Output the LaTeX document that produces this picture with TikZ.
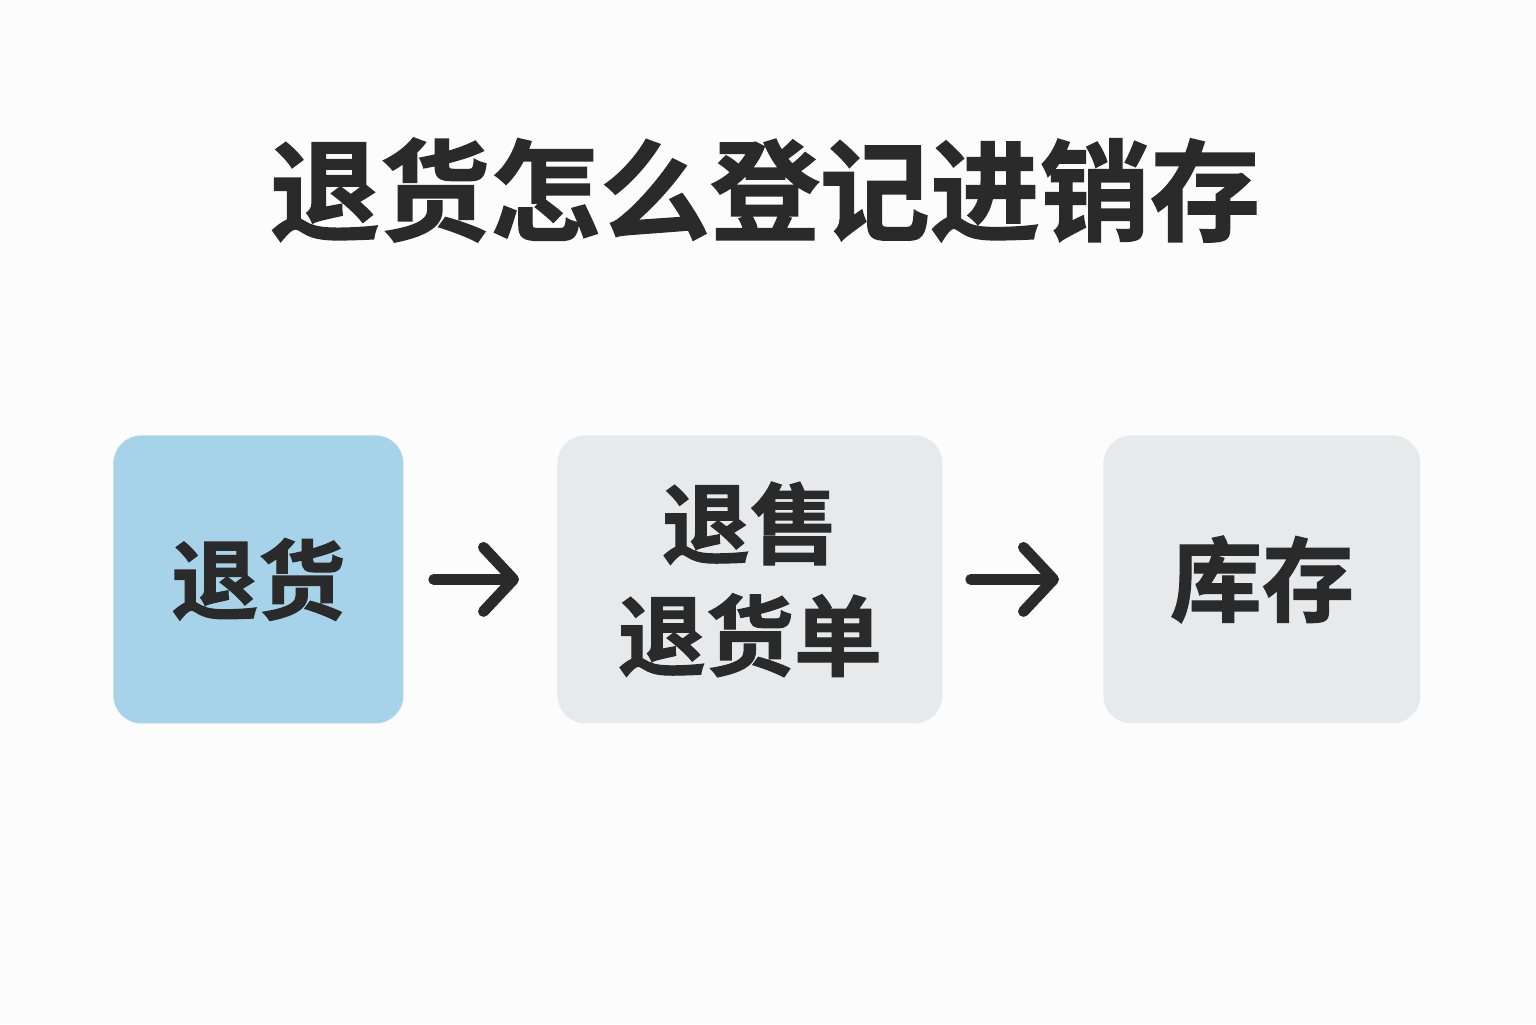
\documentclass[tikz,border=0pt]{standalone}
\usepackage{fontspec}
\newfontfamily\cjkb[FakeBold=1.3]{Noto Sans CJK SC Bold}
\usetikzlibrary{arrows.meta}
\definecolor{bg}{HTML}{FCFCFC}
\definecolor{blu}{HTML}{A6D3EA}
\definecolor{gry}{HTML}{E8E9EB}
\definecolor{ink}{HTML}{2A2A2A}
\tikzset{
  box/.style={rounded corners=14pt, inner sep=0pt, anchor=north west, text=ink, align=center},
  arr/.style={draw=ink, line width=5.5pt, line cap=round, line join=round,
    -{Straight Barb[length=15pt,width=32pt,line width=5.5pt,round]}},
}
\begin{document}
\begin{tikzpicture}[x=0.5pt,y=-0.5pt]
\fill[bg] (0,0) rectangle (1536,1024);
\useasboundingbox (0,0) rectangle (1536,1024);
\node[text=ink, font=\cjkb\fontsize{55pt}{60pt}\selectfont] (title) at (765,190) {退货怎么登记进销存};
\node[box, fill=blu, minimum width=145pt, minimum height=144pt, font=\cjkb\fontsize{43.5pt}{50pt}\selectfont] (b1) at (113,435) {\raisebox{-1.5pt}{退货}};
\node[box, fill=gry, minimum width=192.5pt, minimum height=144pt, font=\cjkb\fontsize{44pt}{56pt}\selectfont] (b2) at (557,435) {\raisebox{2pt}{退售}\\\raisebox{2pt}{退货单}};
\node[box, fill=gry, minimum width=158.5pt, minimum height=144pt, font=\cjkb\fontsize{46pt}{50pt}\selectfont] (b3) at (1103,435) {\raisebox{-1.5pt}{库存}};
\draw[arr, shorten <=15pt, shorten >=19pt] (b1.east) -- (b2.west);
\draw[arr, shorten <=14pt, shorten >=22pt] (b2.east) -- (b3.west);
\end{tikzpicture}
\end{document}
